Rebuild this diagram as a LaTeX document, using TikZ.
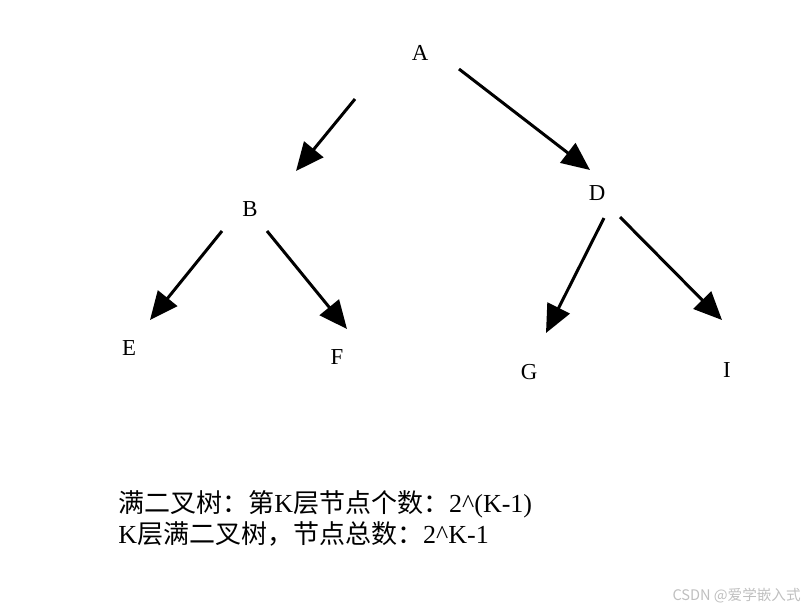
\documentclass[tikz,border=0pt]{standalone}
\usepackage{fontspec}
\setmainfont{Liberation Serif}
\newfontfamily\cjk{Noto Sans CJK SC}
\usetikzlibrary{arrows.meta}
\tikzset{
  letter/.style={inner sep=0pt,font=\fontsize{13}{15}\selectfont},
  edge/.style={line width=1.7pt,-{Triangle[length=16pt,width=14pt]}},
  note/.style={inner sep=0pt,anchor=base west,font=\fontsize{14.8}{17}\selectfont}
}
\begin{document}
\begin{tikzpicture}[x=0.02cm,y=-0.02cm]
  \useasboundingbox (0,0) rectangle (812,613);
  \node[letter] (A) at (420,53) {A};
  \node[letter] (B) at (250,209) {B}; \node[letter] (D) at (597,193) {D};
  \node[letter] (E) at (129,348) {E}; \node[letter] (F) at (337,357) {F};
  \node[letter] (G) at (529,372) {G}; \node[letter] (I) at (727,370) {I};
  \coordinate (AB) at (355,99); \coordinate (BA) at (296,171);
  \coordinate (AD) at (459,69); \coordinate (DA) at (590,170);
  \coordinate (BE) at (222,231); \coordinate (EB) at (150,320);
  \coordinate (BF) at (267,231); \coordinate (FB) at (347,329);
  \coordinate (DG) at (604,218); \coordinate (GD) at (546,333);
  \coordinate (DI) at (620,217); \coordinate (ID) at (722,320);
  \draw[edge] (AB)--(BA);
  \draw[edge] (AD)--(DA);
  \draw[edge] (BE)--(EB);
  \draw[edge] (BF)--(FB);
  \draw[edge] (DG)--(GD);
  \draw[edge] (DI)--(ID);
  \node[note] (n1) at (118,512) {{\cjk 满二叉树：第}K{\cjk 层节点个数：}2\textasciicircum(K-1)};
  \node[note] (n2) at (118,543) {K{\cjk 层满二叉树，节点总数：}2\textasciicircum K-1};
  \node[inner sep=0pt,anchor=base east,text=black!25,font=\cjk\fontsize{8.3}{10}\selectfont] (wm) at (801,600) {CSDN @爱学嵌入式};
\end{tikzpicture}
\end{document}
